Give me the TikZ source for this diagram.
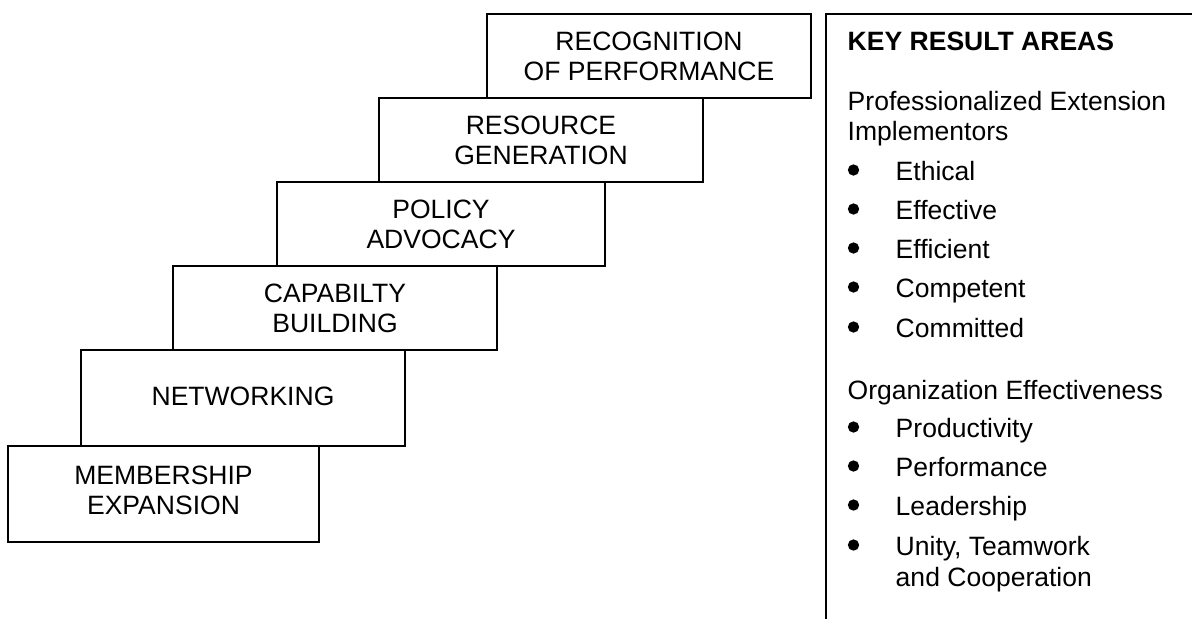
\documentclass[tikz,border=0pt]{standalone}
\usepackage{fontspec}
\setmainfont{Liberation Sans}
\tikzset{
  boxtext/.style={inner sep=0.75pt, align=center},
  listtext/.style={anchor=base west, inner sep=0pt},
  bul/.style={circle, fill, inner sep=0pt, minimum size=8.5pt},
}
\begin{document}
\begin{tikzpicture}[x=0.75pt,y=0.75pt,yscale=-1,xscale=1,font=\fontsize{19.9}{22.5}\selectfont,line width=1.1pt]
\useasboundingbox (0,0) rectangle (1192,619);

%Shape: Rectangle [recognition]
\draw   (487,14) -- (811,14) -- (811,98) -- (487,98) -- cycle ;
%Shape: Rectangle [resource]
\draw   (379,98) -- (703,98) -- (703,182) -- (379,182) -- cycle ;
%Shape: Rectangle [policy]
\draw   (277,182) -- (605,182) -- (605,266) -- (277,266) -- cycle ;
%Shape: Rectangle [capability]
\draw   (173,266) -- (497,266) -- (497,350) -- (173,350) -- cycle ;
%Shape: Rectangle [networking]
\draw   (81,350) -- (405,350) -- (405,446) -- (81,446) -- cycle ;
%Shape: Rectangle [membership]
\draw   (8,446) -- (319,446) -- (319,542) -- (8,542) -- cycle ;
%Straight Lines [key result areas panel]
\draw    (1192,14) -- (826,14) -- (826,619) ;

% Text Node
\draw (649,56) node [boxtext] (recog) {RECOGNITION\\OF PERFORMANCE};
% Text Node
\draw (541,140) node [boxtext] (resource) {RESOURCE\\GENERATION};
% Text Node
\draw (441,224) node [boxtext] (policy) {POLICY\\ADVOCACY};
% Text Node
\draw (335,308) node [boxtext] (capab) {CAPABILTY\\BUILDING};
% Text Node
\draw (243,396) node [boxtext] (network) {NETWORKING};
% Text Node
\draw (163.5,490) node [boxtext] (member) {MEMBERSHIP\\EXPANSION};

% Text Node
\draw (847,50) node [listtext] (kra) {\bfseries KEY RESULT AREAS};
% Text Node
\draw (847,110) node [listtext] (prof) {Professionalized Extension};
% Text Node
\draw (847,140) node [listtext] (impl) {Implementors};
% Text Node
\draw (853.5,170) node [bul] (b1) {};
\draw (895,180) node [listtext] (ethical) {Ethical};
% Text Node
\draw (853.5,209) node [bul] (b2) {};
\draw (895,219) node [listtext] (effective) {Effective};
% Text Node
\draw (853.5,248) node [bul] (b3) {};
\draw (895,258) node [listtext] (efficient) {Efficient};
% Text Node
\draw (853.5,287) node [bul] (b4) {};
\draw (895,297) node [listtext] (competent) {Competent};
% Text Node
\draw (853.5,327) node [bul] (b5) {};
\draw (895,337) node [listtext] (committed) {Committed};

% Text Node
\draw (847,399) node [listtext] (orgeff) {Organization Effectiveness};
% Text Node
\draw (853.5,427) node [bul] (b6) {};
\draw (895,437) node [listtext] (product) {Productivity};
% Text Node
\draw (853.5,466) node [bul] (b7) {};
\draw (895,476) node [listtext] (perform) {Performance};
% Text Node
\draw (853.5,505) node [bul] (b8) {};
\draw (895,515) node [listtext] (leader) {Leadership};
% Text Node
\draw (853.5,545) node [bul] (b9) {};
\draw (895,555) node [listtext] (unity) {Unity, Teamwork};
\draw (895,586) node [listtext] (coop) {and Cooperation};

\end{tikzpicture}
\end{document}
